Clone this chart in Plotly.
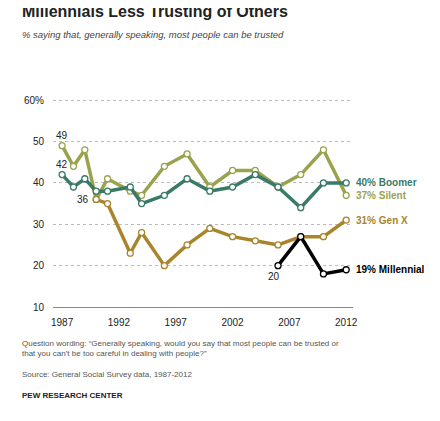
import plotly.graph_objects as go

years = [1987, 1988, 1989, 1990, 1991, 1993, 1994, 1996, 1998, 2000, 2002, 2004, 2006, 2008, 2010, 2012]
silent = [49, 44, 48, 36, 41, 38, 37, 44, 47, 39, 43, 43, 39, 42, 48, 37]
boomer = [42, 39, 41, 38, 38, 39, 35, 37, 41, 38, 39, 42, 39, 34, 40, 40]
genx_years = years[3:]
genx = [36, 35, 23, 28, 20, 25, 29, 27, 26, 25, 27, 27, 31]
mill_years = [2006, 2008, 2010, 2012]
millennial = [20, 27, 18, 19]

tick_years = [1987, 1992, 1997, 2002, 2007, 2012]
tick_vals = [10, 20, 30, 40, 50, 60]
tick_text = ["10", "20", "30", "40", "50", "60%"]

FONT = "Liberation Sans"
fig = go.Figure()

series = [
    ("Silent", years, silent, "#9ba24c"),
    ("Boomer", years, boomer, "#3a7a68"),
    ("Gen X", genx_years, genx, "#a8852b"),
    ("Millennial", mill_years, millennial, "#000000"),
]
for name, xs, ys, col in series:
    fig.add_trace(go.Scatter(
        x=xs, y=ys, mode="lines+markers", name=name,
        line=dict(color=col, width=3.5),
        marker=dict(size=6, color="white", line=dict(color=col, width=1.3)),
        showlegend=False))
    fig.add_annotation(x=xs[-1], y=ys[-1], text="<b>%d%% %s</b>" % (ys[-1], name),
                       xanchor="left", xshift=8, showarrow=False,
                       font=dict(color=col, size=10, family=FONT))

# endpoint labels
for x, y, t, xa, ya, xs_, ys_ in [(1987, 49, "49", "center", "bottom", 0, 3),
                                  (1987, 42, "42", "center", "bottom", 0, 3),
                                  (1990, 36, "36", "right", "middle", -5, 0),
                                  (2006, 20, "20", "center", "top", -4, -3)]:
    fig.add_annotation(x=x, y=y, text=t, xanchor=xa, yanchor=ya, xshift=xs_, yshift=ys_,
                       showarrow=False, font=dict(size=10, color="#222", family=FONT))

fig.update_layout(
    width=440, height=421, plot_bgcolor="white", paper_bgcolor="white",
    margin=dict(l=45, r=95, t=88, b=122),
    font=dict(family=FONT, size=10, color="#222"),
    xaxis=dict(range=[1986.2, 2012.6], tickvals=tick_years, showgrid=False,
               showline=True, linecolor="#888", ticks="", zeroline=False,
               ticklabelstandoff=6),
    yaxis=dict(range=[10, 61], tickvals=tick_vals, ticktext=tick_text,
               gridcolor="#bbb", griddash="dot", zeroline=False, ticks="",
               ticklabelstandoff=8),
)
fig.add_annotation(xref="paper", yref="paper", x=-0.11, y=1.40, xanchor="left", yanchor="middle",
                   text="<b>Millennials Less Trusting of Others</b>", showarrow=False,
                   font=dict(size=16, color="#222", family=FONT))
fig.add_annotation(xref="paper", yref="paper", x=-0.11, y=1.29, xanchor="left", yanchor="middle",
                   text="<i>% saying that, generally speaking, most people can be trusted</i>",
                   showarrow=False, font=dict(size=9.5, color="#444", family=FONT))
fig.add_annotation(xref="paper", yref="paper", x=-0.11, y=-0.14, xanchor="left", yanchor="top",
                   align="left", showarrow=False, font=dict(size=8, color="#555", family=FONT),
                   text="Question wording: \u201cGenerally speaking, would you say that most people can be trusted or<br>"
                        "that you can\u2019t be too careful in dealing with people?\u201d<br><br>"
                        "Source: General Social Survey data, 1987-2012<br><br>"
                        "<b style='color:#222'>PEW RESEARCH CENTER</b>")
fig.write_html("out.html")
